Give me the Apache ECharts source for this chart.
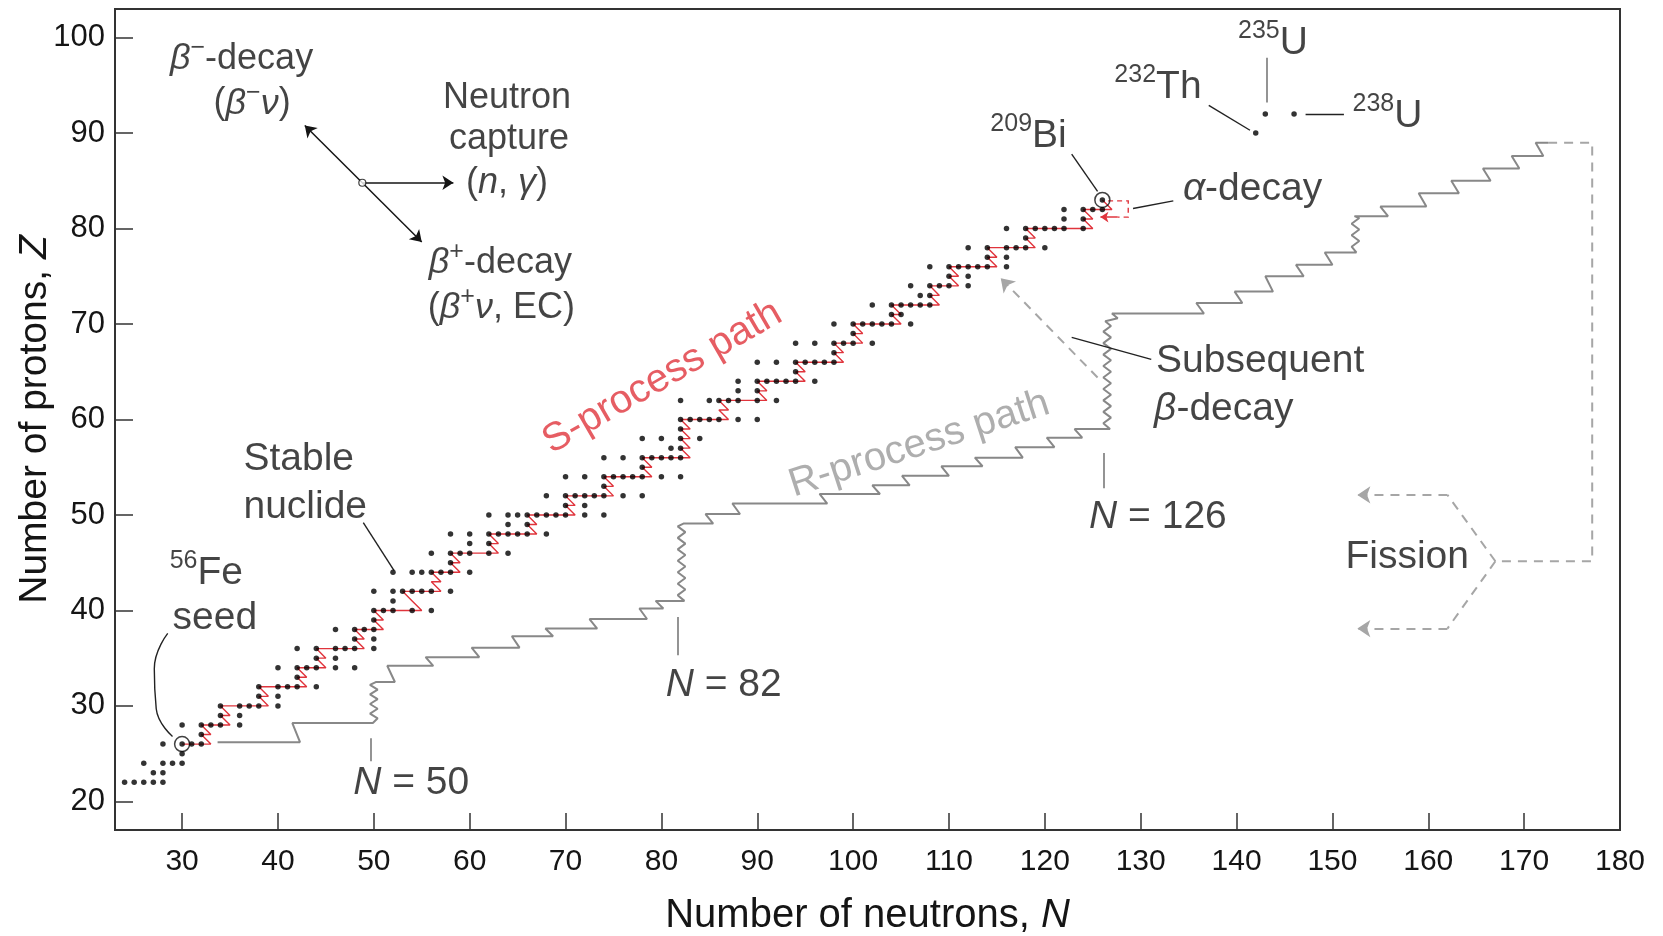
<!DOCTYPE html>
<html>
<head>
<meta charset="utf-8">
<script src="https://cdn.jsdelivr.net/npm/echarts@6/dist/echarts.min.js"></script>
</head>
<body style="margin:0;background:#fff">
<div id="chart" style="width:1663px;height:936px"></div>
<script>
// tick labels
var xTicks = [30, 40, 50, 60, 70, 80, 90, 100, 110, 120, 130, 140, 150, 160, 170, 180];
var yTicks = [20, 30, 40, 50, 60, 70, 80, 90, 100];

// stable nuclides: proton number and the neutron numbers of its stable isotopes
var stableZ = [22, 23, 24, 25, 26, 27, 28, 29, 30, 31, 32, 33, 34, 35, 36, 37, 38, 39, 40, 41, 42,
  44, 45, 46, 47, 48, 49, 50, 51, 52, 53, 54, 55, 56, 57, 58, 59, 60,
  62, 63, 64, 65, 66, 67, 68, 69, 70, 71, 72, 73, 74, 75, 76, 77, 78, 79, 80, 81, 82, 83];
var stableN = [
  [24, 25, 26, 27, 28], [27, 28], [26, 28, 29, 30], [30], [28, 30, 31, 32], [32],
  [30, 32, 33, 34, 36], [34, 36], [34, 36, 37, 38, 40], [38, 40], [38, 40, 41, 42, 44], [42],
  [40, 42, 43, 44, 46, 48], [44, 46], [42, 44, 46, 47, 48, 50], [48, 50], [46, 48, 49, 50], [50],
  [50, 51, 52, 54, 56], [52], [50, 52, 53, 54, 55, 56, 58],
  [52, 54, 55, 56, 57, 58, 60], [58], [56, 58, 59, 60, 62, 64], [60, 62],
  [58, 60, 62, 63, 64, 65, 66, 68], [64, 66], [62, 64, 65, 66, 67, 68, 69, 70, 72, 74], [70, 72],
  [68, 70, 71, 72, 73, 74, 76, 78], [74], [70, 72, 74, 75, 76, 77, 78, 80, 82], [78],
  [74, 76, 78, 79, 80, 81, 82], [81, 82], [78, 80, 82, 84], [82], [82, 83, 84, 85, 86, 88, 90],
  [82, 85, 86, 87, 88, 90, 92], [88, 90], [88, 90, 91, 92, 93, 94, 96], [94],
  [90, 92, 94, 95, 96, 97, 98], [98], [94, 96, 98, 99, 100, 102], [100],
  [98, 100, 101, 102, 103, 104, 106], [104, 105], [102, 104, 105, 106, 107, 108], [107, 108],
  [106, 108, 109, 110, 112], [110, 112], [108, 110, 111, 112, 113, 114, 116], [114, 116],
  [112, 114, 116, 117, 118, 120], [118], [116, 118, 119, 120, 121, 122, 124], [122, 124],
  [122, 124, 125, 126], [126]
];

// 232Th, 235U, 238U
var actinideN = [142, 143, 146];
var actinideZ = [90, 92, 92];

// s-process path corners [N, Z]
var sPath = [
  [30, 26], [33, 26], [32, 27], [33, 27], [32, 28], [35, 28], [34, 29], [35, 29], [34, 30], [39, 30],
  [38, 31], [39, 31], [38, 32], [43, 32], [42, 33], [43, 33], [42, 34], [45, 34], [44, 35], [45, 35],
  [44, 36], [49, 36], [48, 37], [49, 37], [48, 38], [51, 38], [50, 39], [51, 39], [50, 40], [55, 40],
  [54, 41], [53, 42], [57, 42], [56, 43], [57, 43], [56, 44], [59, 44], [58, 45], [59, 45], [58, 46],
  [63, 46], [62, 47], [63, 47], [62, 48], [67, 48], [66, 49], [67, 49], [66, 50], [71, 50], [70, 51],
  [71, 51], [70, 52], [75, 52], [74, 53], [75, 53], [74, 54], [79, 54], [78, 55], [79, 55], [78, 56],
  [83, 56], [82, 57], [83, 57], [82, 58], [83, 58], [82, 59], [83, 59], [82, 60], [87, 60], [86, 61],
  [87, 61], [86, 62], [91, 62], [90, 63], [91, 63], [90, 64], [95, 64], [94, 65], [95, 65], [94, 66],
  [99, 66], [98, 67], [99, 67], [98, 68], [101, 68], [100, 69], [101, 69], [100, 70], [105, 70], [104, 71],
  [105, 71], [104, 72], [109, 72], [108, 73], [109, 73], [108, 74], [111, 74], [110, 75], [111, 75], [110, 76],
  [115, 76], [114, 77], [115, 77], [114, 78], [119, 78], [118, 79], [119, 79], [118, 80], [125, 80], [124, 81],
  [125, 81], [124, 82], [127, 82], [126, 83]
];
var alphaLoop = [[126.6, 82.9], [128.7, 82.9], [128.7, 81.2], [127.6, 81.2]];
var alphaArrow = [[127.6, 81.2], [125.8, 81.2]];

// r-process path corners [N, Z]
var rPath = [
  [33.7, 26.2], [42.3, 26.2], [41.5, 28.2], [49.9, 28.2],
  [50.4, 28.7], [49.6, 29.2], [50.4, 29.7], [49.6, 30.2], [50.4, 30.7], [49.6, 31.2], [50.4, 31.7], [49.6, 32.2], [50.2, 32.5],
  [52.2, 32.5], [51.4, 34.2], [56.2, 34.2], [55.4, 35.1], [61.0, 35.1], [60.2, 36.1], [65.2, 36.1], [64.4, 37.3],
  [68.7, 37.3], [67.9, 38.1], [73.3, 38.1], [72.5, 39.1], [78.5, 39.1], [77.7, 40.2], [80.2, 40.2], [79.4, 41.0], [82.4, 41.0],
  [81.7, 41.6], [82.5, 42.2], [81.7, 42.8], [82.5, 43.4], [81.7, 44.0], [82.5, 44.6], [81.7, 45.2], [82.5, 45.8],
  [81.7, 46.4], [82.5, 47.0], [81.7, 47.6], [82.5, 48.2], [81.7, 48.8], [82.3, 49.1],
  [85.4, 49.1], [84.6, 50.1], [88.2, 50.1], [87.4, 51.2], [97.3, 51.2], [96.5, 52.2], [102.8, 52.2], [102.0, 53.1],
  [105.9, 53.1], [105.1, 54.1], [110.0, 54.1], [109.2, 55.1], [113.5, 55.1], [112.7, 56.0], [117.7, 56.0], [116.9, 57.1],
  [121.0, 57.1], [120.2, 58.1], [123.9, 58.1], [123.1, 59.0], [126.8, 59.0],
  [126.1, 59.6], [126.9, 60.2], [126.1, 60.8], [126.9, 61.4], [126.1, 62.0], [126.9, 62.6], [126.1, 63.2], [126.9, 63.8],
  [126.1, 64.4], [126.9, 65.0], [126.1, 65.6], [126.9, 66.2], [126.1, 66.8], [126.9, 67.4], [126.1, 68.0], [126.9, 68.6],
  [126.1, 69.2], [126.9, 69.8], [126.3, 70.3], [127.6, 70.6], [127.0, 71.1],
  [136.6, 71.1], [135.8, 72.2], [140.6, 72.2], [139.8, 73.4], [143.8, 73.4], [143.0, 75.0], [147.0, 75.0], [146.2, 76.2],
  [150.0, 76.2], [149.2, 77.5], [152.5, 77.5],
  [152.0, 78.1], [152.8, 78.7], [152.0, 79.3], [152.8, 79.9], [152.0, 80.5], [152.8, 81.1], [152.3, 81.3],
  [155.8, 81.3], [155.0, 82.3], [159.8, 82.3], [159.0, 83.7], [163.2, 83.7], [162.4, 85.0], [166.5, 85.0], [165.7, 86.3],
  [169.5, 86.3], [168.7, 87.6], [172.0, 87.6], [171.2, 89.0], [172.5, 89.0]
];
var fissionPath = [[172.5, 89.0], [177.1, 89.0], [177.1, 45.15], [167.0, 45.15]];
var fissionUp = [[167.0, 45.15], [162.0, 52.1]];
var fissionDown = [[167.0, 45.15], [162.0, 38.1]];
var fissionArrows = [[[162.0, 52.1], [152.6, 52.1]], [[162.0, 38.1], [152.6, 38.1]]];

// reaction legend: centre and arrow tips
var legendCentre = [48.8, 84.8];
var legendTips = [[58.3, 84.8], [42.8, 90.8], [55.0, 78.6]];
var betaArrow = [[125.5, 64.4], [115.4, 74.8]];

// marked nuclides (56Fe seed, 209Bi)
var ringN = [30, 126];
var ringZ = [26, 83];

// leader lines
var blackLeaders = [
  [[48.9, 49.2], [52.1, 44.2]],
  [[122.8, 68.6], [131.1, 66.3]],
  [[122.8, 87.8], [125.5, 83.9]],
  [[129.2, 82.1], [133.4, 82.9]],
  [[137.1, 92.9], [141.4, 90.3]],
  [[147.2, 92.0], [151.2, 92.0]]
];
var greyLeaders = [
  [[49.7, 26.6], [49.7, 24.2]],
  [[81.7, 39.3], [81.7, 35.3]],
  [[126.1, 56.5], [126.1, 52.8]],
  [[143.2, 97.9], [143.2, 93.2]]
];
var seedCurve = [[28.5, 37.6], [27.1, 33.9], [27.3, 29.7], [29.0, 26.8]];

var notes = [
  {value: [36.2, 97.8], text: '{g|β}{sup|−}{t|-decay}'},
  {value: [37.3, 93.1], text: '{t|(}{g|β}{sup|−}{g|ν}{t|)}'},
  {value: [63.9, 93.7], text: '{t|Neutron}'},
  {value: [64.1, 89.4], text: '{t|capture}'},
  {value: [63.9, 84.8], text: '{t|(}{i|n}{t|, }{g|γ}{t|)}'},
  {value: [63.2, 76.4], text: '{g|β}{sup|+}{t|-decay}'},
  {value: [63.3, 71.7], text: '{t|(}{g|β}{sup|+}{g|ν}{t|, EC)}'},
  {value: [36.4, 55.8], text: '{T|Stable}', align: 'left'},
  {value: [36.4, 50.8], text: '{T|nuclide}', align: 'left'},
  {value: [28.7, 43.9], text: '{sup|56}{T|Fe}', align: 'left'},
  {value: [29.0, 39.2], text: '{T|seed}', align: 'left'},
  {value: [80.1, 64.4], text: '{sp|S-process path}', rotate: 30},
  {value: [106.9, 57.4], text: '{rp|R-process path}', rotate: 18},
  {value: [53.9, 21.9], text: '{I|N}{T| = 50}'},
  {value: [86.5, 32.2], text: '{I|N}{T| = 82}'},
  {value: [131.8, 49.8], text: '{I|N}{T| = 126}'},
  {value: [131.6, 66.1], text: '{T|Subsequent}', align: 'left'},
  {value: [131.4, 61.1], text: '{G|β}{T|-decay}', align: 'left'},
  {value: [118.3, 89.7], text: '{sup|209}{T|Bi}'},
  {value: [134.4, 84.1], text: '{G|α}{T|-decay}', align: 'left'},
  {value: [131.8, 94.8], text: '{sup|232}{T|Th}'},
  {value: [143.8, 99.4], text: '{sup|235}{T|U}'},
  {value: [152.1, 91.8], text: '{sup|238}{T|U}', align: 'left'},
  {value: [157.8, 45.6], text: '{T|Fission}'}
];

var FONT = '"Liberation Sans", Arial, Helvetica, sans-serif';
var INK = '#151515';
var RED = '#e0343c';
var GREY = '#888';

var stableData = [];
for (var i = 0; i < stableZ.length; i++) {
  for (var j = 0; j < stableN[i].length; j++) {
    stableData.push([stableN[i][j], stableZ[i]]);
  }
}
var actinideData = actinideN.map(function (n, k) { return [n, actinideZ[k]]; });
var ringData = ringN.map(function (n, k) { return [n, ringZ[k]]; });

function txt(size, italic, color) {
  return {fontSize: size, lineHeight: size + 10, fontFamily: FONT, color: color || INK,
    fontStyle: italic ? 'italic' : 'normal'};
}
var rich = {
  t: txt(36), i: txt(36, true), g: txt(36, true),
  T: txt(39), I: txt(39, true), G: txt(39, true),
  sup: {fontSize: 25, lineHeight: 27, fontFamily: FONT, color: INK, verticalAlign: 'top'},
  sp: {fontSize: 40, fontFamily: FONT, color: RED},
  rp: {fontSize: 40, fontFamily: FONT, color: '#9a9a9a'}
};

function segs(list) {
  return list.map(function (c) { return {coords: c}; });
}

var chart = echarts.init(document.getElementById('chart'));
var option = {
  animation: false,
  backgroundColor: '#fff',
  grid: {left: 115, right: 43, top: 9, bottom: 106, outerBoundsMode: 'none',
    show: true, borderColor: '#333', borderWidth: 2},
  xAxis: {
    type: 'value', min: 23, max: 180,
    name: 'Number of neutrons, {i|N}', nameLocation: 'middle', nameGap: 66,
    nameTextStyle: {fontSize: 40, fontFamily: FONT, color: INK,
      rich: {i: {fontSize: 40, fontFamily: FONT, color: INK, fontStyle: 'italic'}}},
    axisLine: {show: true, lineStyle: {color: '#333', width: 2}},
    axisTick: {show: true, inside: true, length: 17, customValues: xTicks, lineStyle: {color: '#333', width: 1.5}},
    axisLabel: {customValues: xTicks, fontSize: 30, fontFamily: FONT, color: INK, margin: 17},
    splitLine: {show: false}
  },
  yAxis: {
    type: 'value', min: 17, max: 103,
    name: 'Number of protons, {i|Z}', nameLocation: 'middle', nameGap: 60, nameMoveOverlap: false,
    nameTextStyle: {fontSize: 39, fontFamily: FONT, color: INK,
      rich: {i: {fontSize: 39, fontFamily: FONT, color: INK, fontStyle: 'italic'}}},
    axisLine: {show: true, lineStyle: {color: '#333', width: 2}},
    axisTick: {show: true, inside: true, length: 18, customValues: yTicks, lineStyle: {color: '#333', width: 1.5}},
    axisLabel: {customValues: yTicks, fontSize: 31, fontFamily: FONT, color: INK, margin: 10},
    splitLine: {show: false}
  },
  series: [
    {type: 'line', name: 'r-process', data: rPath, symbol: 'none', z: 2,
      lineStyle: {color: GREY, width: 2}},
    {type: 'lines', coordinateSystem: 'cartesian2d', polyline: true, z: 2,
      lineStyle: {color: '#a6a6a6', width: 2, type: [9, 7], opacity: 1},
      data: segs([fissionPath, fissionUp, fissionDown])},
    {type: 'lines', coordinateSystem: 'cartesian2d', z: 2, symbol: ['none', 'arrow'], symbolSize: 13,
      lineStyle: {color: '#a6a6a6', width: 2, type: [9, 7], opacity: 1},
      data: segs(fissionArrows.concat([betaArrow]))},
    {type: 'line', name: 's-process', data: sPath, symbol: 'none', z: 3,
      lineStyle: {color: RED, width: 1.4}},
    {type: 'lines', coordinateSystem: 'cartesian2d', polyline: true, z: 3,
      lineStyle: {color: RED, width: 1.4, type: [5, 4], opacity: 1},
      data: segs([alphaLoop])},
    {type: 'lines', coordinateSystem: 'cartesian2d', z: 3, symbol: ['none', 'arrow'], symbolSize: 8,
      lineStyle: {color: RED, width: 1.6, opacity: 1},
      data: segs([alphaArrow])},
    {type: 'scatter', name: 'stable', data: stableData.concat(actinideData), symbolSize: 5.5, z: 5,
      itemStyle: {color: '#000'}},
    {type: 'scatter', name: 'rings', data: ringData, symbolSize: 15, z: 4,
      itemStyle: {color: 'rgba(0,0,0,0)', borderColor: '#111', borderWidth: 1.5}},
    {type: 'scatter', name: 'centre', data: [legendCentre], symbolSize: 7, z: 6,
      itemStyle: {color: '#fff', borderColor: '#111', borderWidth: 1.2}},
    {type: 'lines', coordinateSystem: 'cartesian2d', z: 5, symbol: ['none', 'arrow'], symbolSize: 11,
      lineStyle: {color: INK, width: 1.5, opacity: 1},
      data: legendTips.map(function (t) { return {coords: [legendCentre, t]}; })},
    {type: 'lines', coordinateSystem: 'cartesian2d', z: 5,
      lineStyle: {color: '#222', width: 1.4, opacity: 1}, data: segs(blackLeaders)},
    {type: 'lines', coordinateSystem: 'cartesian2d', z: 5,
      lineStyle: {color: '#888', width: 1.8, opacity: 1}, data: segs(greyLeaders)},
    {type: 'line', data: seedCurve, symbol: 'none', smooth: 0.5, z: 5,
      lineStyle: {color: '#222', width: 1.4}},
    {type: 'scatter', name: 'notes', symbolSize: 0, z: 8,
      label: {show: true, position: 'inside', verticalAlign: 'middle', rich: rich,
        formatter: function (p) { return p.data.text; }},
      data: notes.map(function (n) {
        return {value: n.value, text: n.text,
          label: {align: n.align || 'center', rotate: n.rotate || 0}};
      })}
  ]
};
chart.setOption(option);
</script>
</body>
</html>
